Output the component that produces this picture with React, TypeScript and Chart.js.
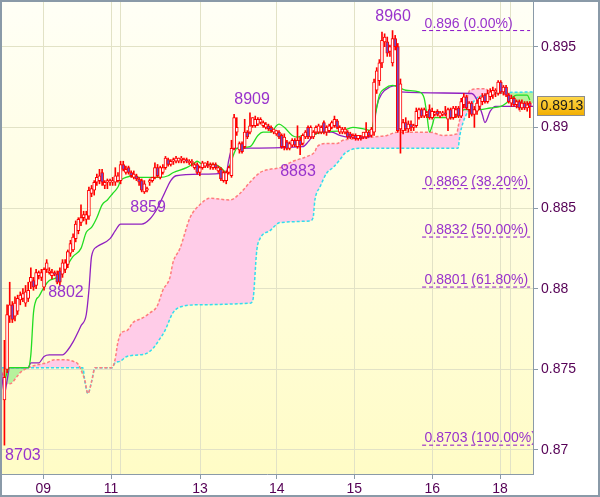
import React, { useEffect, useRef } from 'react';
import { Chart, registerables } from 'chart.js';

Chart.register(...registerables);

const PIP = 10000;

// hourly candles, prices in 1/10000
const candleOpen = [
  8731, 8750, 8783, 8790, 8783, 8786, 8793, 8794, 8791, 8794, 8804, 8805, 8802, 8808, 8807, 8801, 8812, 8810, 8808, 8810,
  8809, 8811, 8809, 8812, 8815, 8822, 8824, 8831, 8836, 8841, 8844, 8843, 8845, 8859, 8861, 8866, 8867, 8872, 8864, 8866,
  8866, 8866, 8866, 8867, 8867, 8877, 8872, 8875, 8872, 8869, 8870, 8868, 8867, 8860, 8861, 8866, 8867, 8869, 8875, 8869,
  8872, 8875, 8880, 8877, 8879, 8879, 8879, 8880, 8879, 8880, 8878, 8878, 8875, 8877, 8872, 8875, 8876, 8877, 8876, 8875,
  8877, 8873, 8874, 8867, 8867, 8872, 8870, 8887, 8897, 8886, 8890, 8888, 8897, 8897, 8901, 8901, 8902, 8903, 8901, 8900,
  8901, 8900, 8897, 8896, 8897, 8895, 8888, 8891, 8887, 8889, 8892, 8888, 8892, 8890, 8894, 8900, 8894, 8894, 8897, 8897,
  8897, 8903, 8897, 8898, 8900, 8901, 8904, 8897, 8897, 8897, 8897, 8896, 8894, 8895, 8893, 8894, 8894, 8894, 8897, 8895,
  8897, 8923, 8929, 8940, 8953, 8953, 8947, 8940, 8955, 8950, 8899, 8898, 8903, 8899, 8902, 8900, 8901, 8906, 8911, 8907,
  8908, 8911, 8906, 8908, 8910, 8907, 8908, 8909, 8905, 8911, 8906, 8908, 8912, 8907, 8914, 8919, 8911, 8915, 8908, 8910,
  8913, 8916, 8920, 8916, 8919, 8920, 8922, 8921, 8928, 8922, 8925, 8920, 8915, 8918, 8914, 8916, 8912, 8915, 8912, 8915,
];
const candleHigh = [
  8768, 8790, 8804, 8792, 8795, 8796, 8798, 8800, 8802, 8804, 8813, 8807, 8812, 8811, 8812, 8813, 8818, 8813, 8812, 8811,
  8811, 8813, 8818, 8818, 8824, 8830, 8834, 8842, 8844, 8852, 8848, 8848, 8863, 8864, 8867, 8871, 8874, 8874, 8867, 8868,
  8868, 8869, 8875, 8872, 8879, 8879, 8876, 8876, 8873, 8873, 8871, 8869, 8868, 8867, 8863, 8868, 8869, 8878, 8877, 8876,
  8877, 8882, 8881, 8880, 8881, 8882, 8881, 8882, 8881, 8881, 8880, 8880, 8878, 8878, 8876, 8879, 8878, 8879, 8878, 8878,
  8878, 8876, 8875, 8873, 8873, 8876, 8892, 8908, 8906, 8891, 8891, 8905, 8898, 8909, 8906, 8907, 8906, 8906, 8904, 8903,
  8902, 8901, 8899, 8898, 8898, 8896, 8896, 8892, 8891, 8893, 8893, 8901, 8894, 8896, 8898, 8901, 8901, 8898, 8901, 8902,
  8901, 8904, 8901, 8902, 8904, 8907, 8905, 8901, 8900, 8900, 8898, 8897, 8896, 8896, 8895, 8895, 8897, 8903, 8898, 8900,
  8930, 8937, 8942, 8959, 8958, 8956, 8951, 8960, 8957, 8952, 8930, 8905, 8906, 8904, 8904, 8902, 8912, 8912, 8912, 8912,
  8910, 8914, 8912, 8910, 8911, 8910, 8910, 8913, 8912, 8912, 8913, 8913, 8913, 8918, 8921, 8920, 8916, 8916, 8913, 8917,
  8919, 8921, 8921, 8923, 8924, 8925, 8924, 8929, 8929, 8926, 8926, 8921, 8920, 8919, 8917, 8917, 8917, 8916, 8916, 8916,
];
const candleLow = [
  8703, 8748, 8779, 8779, 8780, 8784, 8790, 8792, 8789, 8792, 8800, 8799, 8800, 8806, 8805, 8799, 8810, 8809, 8806, 8808,
  8803, 8802, 8807, 8810, 8813, 8820, 8823, 8829, 8834, 8839, 8842, 8840, 8843, 8857, 8858, 8864, 8865, 8864, 8862, 8862,
  8864, 8864, 8864, 8866, 8865, 8873, 8871, 8871, 8869, 8868, 8867, 8864, 8860, 8859, 8860, 8864, 8866, 8868, 8869, 8868,
  8871, 8874, 8876, 8876, 8877, 8878, 8878, 8878, 8878, 8878, 8877, 8876, 8874, 8871, 8870, 8874, 8875, 8875, 8874, 8874,
  8874, 8872, 8867, 8866, 8865, 8871, 8869, 8886, 8895, 8884, 8884, 8887, 8893, 8896, 8900, 8900, 8901, 8902, 8900, 8899,
  8898, 8897, 8896, 8895, 8893, 8887, 8886, 8886, 8886, 8888, 8888, 8887, 8883, 8889, 8893, 8893, 8893, 8893, 8896, 8896,
  8896, 8896, 8895, 8897, 8899, 8900, 8899, 8896, 8896, 8896, 8893, 8893, 8893, 8892, 8892, 8892, 8893, 8893, 8894, 8894,
  8895, 8921, 8926, 8937, 8950, 8944, 8944, 8938, 8948, 8897, 8884, 8896, 8898, 8897, 8898, 8898, 8900, 8905, 8906, 8906,
  8906, 8905, 8905, 8907, 8907, 8906, 8907, 8907, 8898, 8905, 8905, 8906, 8906, 8906, 8912, 8911, 8906, 8907, 8900, 8908,
  8911, 8914, 8915, 8915, 8917, 8918, 8919, 8920, 8921, 8920, 8919, 8915, 8913, 8913, 8912, 8911, 8911, 8911, 8910, 8906,
];
const candleClose = [
  8745, 8784, 8790, 8781, 8791, 8794, 8796, 8797, 8798, 8799, 8807, 8801, 8810, 8810, 8810, 8812, 8816, 8811, 8810, 8809,
  8804, 8804, 8816, 8816, 8823, 8828, 8832, 8840, 8843, 8844, 8846, 8846, 8861, 8862, 8866, 8869, 8870, 8866, 8866, 8867,
  8867, 8867, 8870, 8870, 8877, 8874, 8874, 8872, 8870, 8871, 8868, 8866, 8861, 8865, 8862, 8867, 8869, 8875, 8870, 8875,
  8875, 8881, 8877, 8879, 8880, 8881, 8881, 8881, 8880, 8879, 8879, 8879, 8877, 8872, 8875, 8878, 8878, 8876, 8877, 8877,
  8875, 8875, 8868, 8872, 8872, 8875, 8887, 8906, 8900, 8890, 8885, 8897, 8894, 8901, 8906, 8905, 8905, 8905, 8903, 8902,
  8899, 8898, 8899, 8898, 8894, 8888, 8894, 8887, 8890, 8892, 8889, 8892, 8889, 8895, 8897, 8894, 8900, 8897, 8900, 8901,
  8900, 8897, 8900, 8901, 8903, 8905, 8900, 8900, 8899, 8899, 8894, 8894, 8895, 8893, 8895, 8893, 8897, 8897, 8895, 8899,
  8928, 8935, 8940, 8954, 8956, 8946, 8950, 8955, 8950, 8898, 8927, 8903, 8899, 8902, 8900, 8901, 8910, 8911, 8907, 8911,
  8909, 8906, 8910, 8909, 8908, 8909, 8909, 8908, 8911, 8906, 8912, 8911, 8907, 8916, 8919, 8912, 8915, 8908, 8911, 8915,
  8918, 8919, 8916, 8921, 8922, 8923, 8923, 8928, 8922, 8925, 8920, 8916, 8918, 8914, 8916, 8912, 8915, 8912, 8914, 8913,
];

// Ichimoku lines: [bar index, price in 1/10000]
const tenkan = [
  [0, 8743], [2, 8751], [9, 8751], [10, 8759], [11, 8785], [12, 8793], [13, 8795], [15, 8801], [17, 8805], [20, 8807],
  [22, 8810], [24, 8815], [26, 8820], [29, 8825], [31, 8835], [33, 8838], [35, 8844], [37, 8852], [39, 8855], [41, 8859],
  [43, 8863], [44, 8867], [46, 8869], [49, 8870], [51, 8869], [59, 8869], [62, 8870], [64, 8872], [69, 8875], [72, 8878],
  [73, 8879], [75, 8877], [79, 8877], [82, 8875], [84, 8872], [85, 8875], [87, 8884], [88, 8887], [93, 8888], [96, 8895],
  [98, 8897], [101, 8897], [103, 8901], [104, 8902], [106, 8900], [109, 8895], [111, 8894], [113, 8895], [116, 8895],
  [120, 8897], [128, 8898], [132, 8900], [136, 8899], [139, 8898], [140, 8905], [141, 8912], [142, 8920], [144, 8924],
  [147, 8926], [149, 8925], [152, 8923], [157, 8922], [159, 8918], [160, 8908], [161, 8897], [162, 8901], [163, 8906],
  [165, 8906], [170, 8906], [173, 8909], [174, 8911], [180, 8911], [184, 8912], [188, 8913], [190, 8915], [192, 8918],
  [194, 8920], [198, 8920], [199, 8917],
];
const kijun = [
  [-1.3, 8751], [0, 8735], [1, 8743], [2, 8751], [9, 8751], [10, 8754], [13, 8754], [15, 8758], [17, 8759], [22, 8759],
  [24, 8762], [26, 8767], [29, 8777], [31, 8784], [32, 8799], [33, 8820], [35, 8826], [36, 8827], [40, 8831], [42, 8836],
  [44, 8840], [52, 8840], [55, 8843], [58, 8850], [60, 8857], [62, 8864], [63, 8867], [65, 8870], [74, 8871], [84, 8872],
  [85, 8880], [86, 8886], [88, 8887], [113, 8888], [115, 8891], [117, 8895], [120, 8897], [124, 8897], [127, 8895],
  [130, 8894], [138, 8894], [140, 8901], [141, 8913], [143, 8921], [146, 8925], [149, 8926], [150, 8922], [177, 8921],
  [179, 8917], [181, 8908], [182, 8903], [184, 8910], [186, 8913], [200.2, 8913],
];
const senkouA = [
  [-1.3, 8751], [0, 8743], [1, 8741], [2, 8741], [5, 8746], [6, 8748], [9, 8751], [13, 8753], [16, 8754], [19, 8756],
  [22, 8756], [26, 8755], [28, 8753], [29.4, 8748], [30.5, 8743], [31.6, 8735], [33.1, 8743], [34.3, 8751], [40.7, 8751],
  [41.9, 8756], [43, 8767], [44.5, 8773], [46.4, 8774], [48.7, 8779], [52.5, 8782], [55.1, 8785], [57.8, 8789], [60, 8799],
  [62.7, 8807], [63.8, 8816], [66.5, 8825], [70.3, 8844], [74, 8852], [77.8, 8856], [85.4, 8855], [89.2, 8859], [93, 8866],
  [96.8, 8872], [100.6, 8874], [104.4, 8875], [109.3, 8879], [114.6, 8882], [117.6, 8885], [118.4, 8888], [122.2, 8890],
  [126, 8890], [128.2, 8892], [134.7, 8893], [139.6, 8894], [144.9, 8895], [148.7, 8897], [161.2, 8897], [166.1, 8895],
  [171.4, 8896], [171.8, 8900], [172.5, 8905], [173.7, 8911], [175.2, 8918], [176.3, 8923], [181.3, 8924], [183.1, 8923],
  [183.9, 8920], [186.6, 8921], [190.3, 8921], [191.5, 8920], [194.1, 8915], [195.3, 8910], [196.4, 8914], [198, 8915],
  [200.2, 8915],
];
const senkouB = [
  [-1.3, 8751], [29.7, 8751], [30.5, 8742], [31.6, 8735], [33.1, 8743], [34.3, 8751], [40.7, 8751], [41.9, 8754],
  [43.8, 8755], [46.4, 8758], [51.3, 8759], [54, 8760], [56.3, 8763], [58.9, 8769], [60.8, 8774], [63.8, 8785],
  [67.2, 8789], [74.1, 8790], [93, 8791], [94.1, 8793], [95.6, 8824], [96.8, 8831], [100.6, 8836], [104.4, 8841],
  [115.7, 8842], [116.9, 8844], [117.6, 8855], [119.5, 8863], [122.2, 8872], [124.4, 8875], [127.1, 8880], [129, 8884],
  [134.7, 8887], [171.8, 8887], [172.5, 8895], [173.7, 8903], [175.6, 8910], [178.2, 8917], [181.3, 8920], [185, 8921],
  [200.2, 8922],
];

const fibLevels = [0.896, 0.8862, 0.8832, 0.8801, 0.8703];
const fibPercents = ['0.00%', '38.20%', '50.00%', '61.80%', '100.00%'];
const fibFrom = 158.2;
const fibTo = 199.1;

const extremeIdx = [147.2, 93.8, 111.2, 54.4, 23.3, 7];
const extremeVal = [8960, 8909, 8883, 8859, 8802, 8703];
const extremeSide = [-1, -1, 1, 1, 1, 1];
const extremeGap = [14, 13, 17, 14, 7, 10];

const xTickIdx = [14.72, 40.37, 43.78, 74.08, 103.13, 132.53, 162.07, 187.72, 191.5];
const xTickLabels = ['09', '11', '', '13', '14', '15', '16', '18', ''];
const yTicks = [0.87, 0.875, 0.88, 0.885, 0.89, 0.895];
const lastPrice = 0.8913;

const FONT = '"Liberation Sans", Arial, sans-serif';
const AXIS_GREY = '#8a9aa8';
const GRID = '#e2e2c6';
const LABEL = '#550055';
const VIOLET = '#9933cc';

const toPts = (arr: number[][]) => arr.map(([x, v]) => ({ x, y: v / PIP }));

const overlayPlugin = {
  id: 'overlay',
  beforeDraw(chart: any) {
    const { ctx, chartArea: a } = chart;
    ctx.save();
    ctx.fillStyle = '#ffffff';
    ctx.fillRect(0, 0, chart.width, chart.height);
    const g = ctx.createLinearGradient(0, a.top, 0, a.bottom);
    g.addColorStop(0, '#fffff6');
    g.addColorStop(1, '#fffcc6');
    ctx.fillStyle = g;
    ctx.fillRect(a.left, a.top, a.right - a.left, a.bottom - a.top);
    ctx.restore();
  },
  afterDatasetsDraw(chart: any) {
    const { ctx, chartArea: a, scales } = chart;
    const xs = scales.x;
    const ys = scales.y;
    ctx.save();
    ctx.beginPath();
    ctx.rect(a.left, a.top, a.right - a.left, a.bottom - a.top);
    ctx.clip();
    ctx.fillStyle = VIOLET;
    ctx.font = '14px ' + FONT;
    ctx.textAlign = 'left';
    ctx.textBaseline = 'alphabetic';
    fibLevels.forEach((lv, k) => {
      const y = ys.getPixelForValue(lv);
      ctx.fillText(`${lv} (${fibPercents[k]})`, xs.getPixelForValue(fibFrom) + 2.5, y - 3);
    });
    ctx.font = '16px ' + FONT;
    ctx.textAlign = 'center';
    ctx.textBaseline = 'middle';
    extremeVal.forEach((v, k) => {
      const y = ys.getPixelForValue(v / PIP) + extremeSide[k] * extremeGap[k];
      ctx.fillText(String(v), xs.getPixelForValue(extremeIdx[k]), y);
    });
    ctx.restore();
  },
  afterDraw(chart: any) {
    const { ctx, chartArea: a, scales } = chart;
    const y = scales.y.getPixelForValue(lastPrice);
    ctx.save();
    const bx = a.right + 4.5;
    const by = Math.round(y - 10) + 0.5;
    const bw = 47;
    const bh = 19;
    const g = ctx.createLinearGradient(0, by, 0, by + bh);
    g.addColorStop(0, '#ffd84a');
    g.addColorStop(1, '#f2ae00');
    ctx.fillStyle = g;
    ctx.fillRect(bx, by, bw, bh);
    ctx.strokeStyle = '#8c8c8c';
    ctx.lineWidth = 1;
    ctx.strokeRect(bx, by, bw, bh);
    ctx.fillStyle = '#1a1a1a';
    ctx.font = '14px ' + FONT;
    ctx.textAlign = 'left';
    ctx.textBaseline = 'middle';
    ctx.fillText(lastPrice.toFixed(4), bx + 3, by + bh / 2 + 0.5);
    ctx.strokeStyle = AXIS_GREY;
    ctx.lineWidth = 2;
    ctx.strokeRect(1, 1, chart.width - 2, chart.height - 2);
    ctx.restore();
  },
};

export default function App() {
  const ref = useRef<HTMLCanvasElement>(null);
  useEffect(() => {
    const wickData = candleOpen.map((_, i) => ({ x: i, y: [candleLow[i] / PIP, candleHigh[i] / PIP] }));
    const bodyData = candleOpen.map((o, i) => ({ x: i, y: [o / PIP, candleClose[i] / PIP] }));
    const bodyFill = candleOpen.map((o, i) => (candleClose[i] >= o ? '#ffffff' : '#6f4bc9'));

    const fibSets = fibLevels.map((lv) => ({
      type: 'line' as const,
      data: [{ x: fibFrom, y: lv }, { x: fibTo, y: lv }],
      borderColor: '#8a10c8',
      borderWidth: 1,
      borderDash: [4, 3],
      pointRadius: 0,
      fill: false,
      order: 4,
    }));

    const chart = new Chart(ref.current as HTMLCanvasElement, {
      type: 'bar',
      data: {
        datasets: [
          {
            type: 'bar',
            data: bodyData as any,
            backgroundColor: bodyFill,
            borderColor: '#ff0000',
            borderWidth: 1,
            borderSkipped: false,
            barThickness: 3,
            minBarLength: 1,
            grouped: false,
            order: 0,
          } as any,
          {
            type: 'bar',
            data: wickData as any,
            backgroundColor: '#ff0000',
            borderWidth: 0,
            barThickness: 1,
            minBarLength: 1,
            grouped: false,
            order: 1,
          } as any,
          {
            type: 'line',
            data: toPts(tenkan),
            borderColor: '#22dd22',
            borderWidth: 1.3,
            pointRadius: 0,
            cubicInterpolationMode: 'monotone',
            fill: false,
            order: 2,
          },
          {
            type: 'line',
            data: toPts(kijun),
            borderColor: '#9020c0',
            borderWidth: 1.3,
            pointRadius: 0,
            cubicInterpolationMode: 'monotone',
            fill: false,
            order: 3,
          },
          ...fibSets,
          {
            type: 'line',
            data: toPts(senkouA),
            borderColor: '#ff7c7c',
            borderWidth: 1.5,
            borderDash: [3, 2],
            pointRadius: 0,
            cubicInterpolationMode: 'monotone',
            fill: { target: '+1', above: '#ffcce8', below: '#b6f29c' },
            order: 5,
          },
          {
            type: 'line',
            data: toPts(senkouB),
            borderColor: '#33dcee',
            borderWidth: 1.5,
            borderDash: [3, 2],
            pointRadius: 0,
            cubicInterpolationMode: 'monotone',
            fill: false,
            order: 6,
          },
        ] as any,
      },
      options: {
        responsive: false,
        animation: false,
        devicePixelRatio: 1,
        layout: { padding: { left: 1, top: 1, right: 1, bottom: 1 } },
        plugins: {
          legend: { display: false },
          tooltip: { enabled: false },
          filler: { drawTime: 'beforeDatasetsDraw' } as any,
        },
        scales: {
          x: {
            type: 'linear',
            min: -1.3,
            max: 200.2,
            offset: false,
            afterBuildTicks: (s: any) => {
              s.ticks = xTickIdx.map((v) => ({ value: v }));
            },
            afterFit: (s: any) => {
              s.height = 22;
              s.paddingLeft = 0;
              s.paddingRight = 0;
            },
            grid: {
              offset: false,
              color: GRID,
              tickLength: 5,
              tickColor: (c: any) => (xTickLabels[c.index] ? AXIS_GREY : 'rgba(0,0,0,0)'),
            },
            border: { color: AXIS_GREY, width: 1 },
            ticks: {
              autoSkip: false,
              maxRotation: 0,
              padding: 2,
              color: LABEL,
              font: { family: FONT, size: 14 },
              callback: (_v: any, i: number) => xTickLabels[i],
            },
          },
          y: {
            type: 'linear',
            position: 'right',
            min: 0.868512,
            max: 0.897833,
            beginAtZero: false,
            afterBuildTicks: (s: any) => {
              s.ticks = yTicks.map((v) => ({ value: v }));
            },
            afterFit: (s: any) => {
              s.width = 66;
              s.paddingTop = 0;
              s.paddingBottom = 0;
            },
            grid: { color: GRID, tickLength: 5, tickColor: AXIS_GREY },
            border: { color: AXIS_GREY, width: 1 },
            ticks: {
              padding: 3,
              color: LABEL,
              font: { family: FONT, size: 14 },
              callback: (v: any) => String(Number(Number(v).toFixed(3))),
            },
          },
        },
      },
      plugins: [overlayPlugin],
    });
    return () => chart.destroy();
  }, []);

  return (
    <div style={{ position: 'absolute', left: 0, top: 0, width: 600, height: 497 }}>
      <canvas ref={ref} width={600} height={497} style={{ display: 'block', width: 600, height: 497 }} />
    </div>
  );
}
